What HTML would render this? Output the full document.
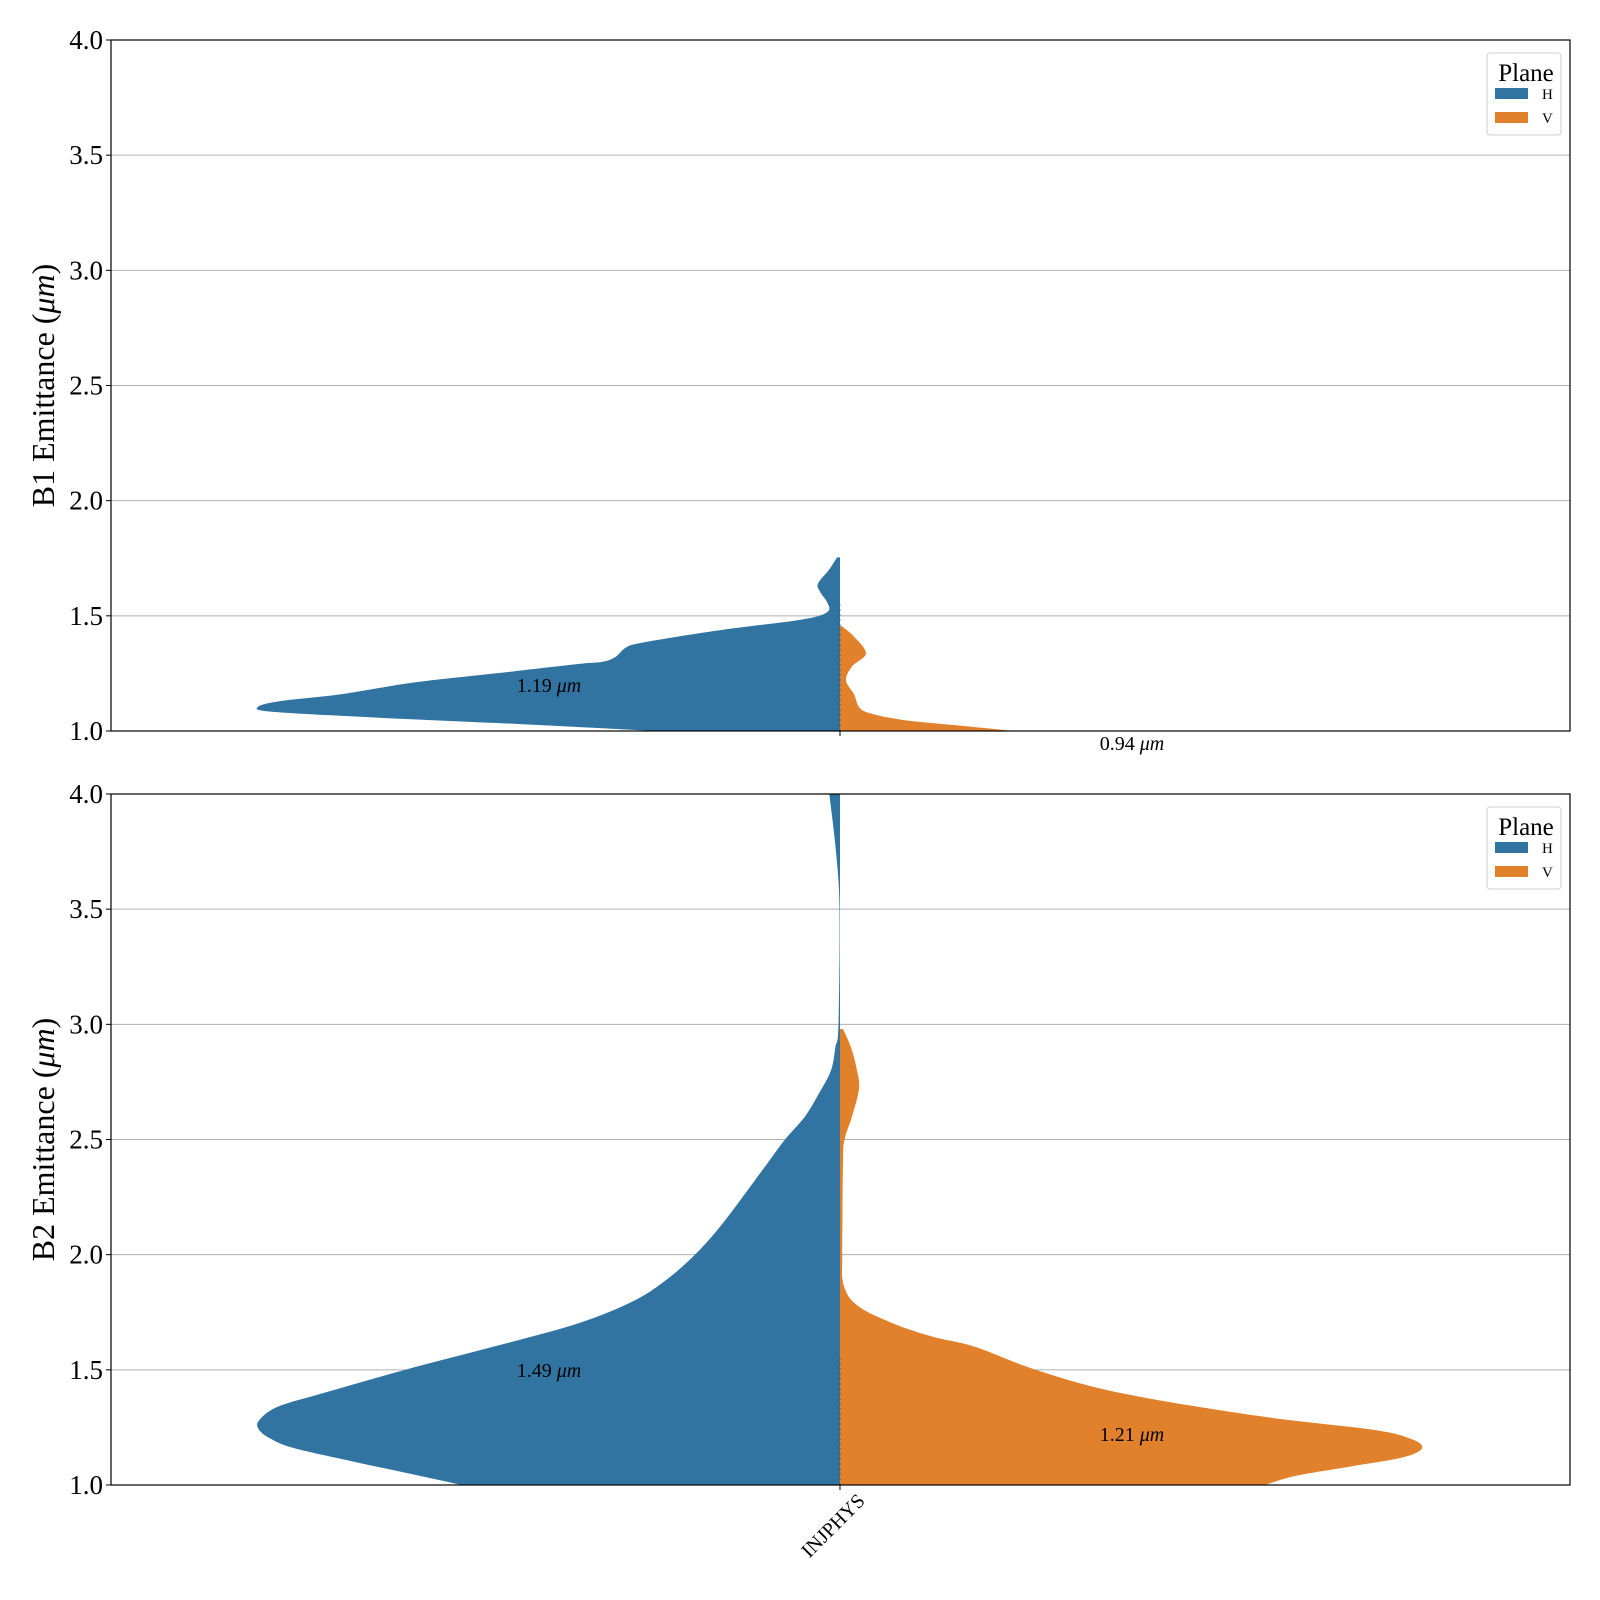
<!DOCTYPE html>
<html><head><meta charset="utf-8">
<style>
html,body{margin:0;padding:0;background:#fff;}
svg{display:block;font-family:"Liberation Serif","DejaVu Serif",serif;}
</style></head>
<body>
<svg id="chart" width="1600" height="1600" viewBox="0 0 1600 1600"></svg>
<script>
// ---- data ----
const yTicks = [1.0, 1.5, 2.0, 2.5, 3.0, 3.5, 4.0];
const yTickLabels = ["1.0", "1.5", "2.0", "2.5", "3.0", "3.5", "4.0"];
const categories = ["INJPHYS"];
const panelTitles = ["B1 Emittance (μm)", "B2 Emittance (μm)"];
const planes = ["H", "V"];
const b1H_y = [1.0, 1.004, 1.03, 1.06, 1.084, 1.105, 1.13, 1.16, 1.21, 1.25, 1.29, 1.30, 1.32, 1.36, 1.38, 1.41, 1.44, 1.46, 1.48, 1.50, 1.525, 1.56, 1.605, 1.64, 1.70, 1.754];
const b1H_d = [190, 202, 320, 472, 569, 582, 559, 498, 427, 345, 264, 238, 225, 215, 202, 162, 116, 80, 44, 21, 11, 13, 20, 22, 11, 3];
const b1V_y = [1.0, 1.004, 1.026, 1.048, 1.077, 1.105, 1.16, 1.22, 1.28, 1.337, 1.41, 1.456];
const b1V_d = [172, 165, 114, 63, 30, 19, 14, 6, 12, 26, 14, 1.5];
const b2H_y = [1.0, 1.05, 1.1, 1.16, 1.2, 1.24, 1.28, 1.34, 1.4, 1.5, 1.6, 1.7, 1.8, 1.9, 2.0, 2.1, 2.2, 2.3, 2.4, 2.5, 2.6, 2.7, 2.8, 2.9, 3.0, 3.5, 3.75, 4.0];
const b2H_d = [378, 431, 485, 546, 569, 581, 581, 562, 516, 435, 347, 263, 206, 171, 145, 124, 106, 89, 72, 55, 35, 21, 9, 4.6, 1.5, 0.5, 4, 10.7];
const b2V_y = [1.0, 1.04, 1.08, 1.12, 1.16, 1.2, 1.24, 1.3, 1.4, 1.5, 1.6, 1.64, 1.68, 1.72, 1.76, 1.8, 1.84, 1.9, 2.0, 2.4, 2.5, 2.6, 2.72, 2.8, 2.9, 2.98];
const b2V_d = [425, 456, 510, 563, 582, 571, 533, 418, 280, 196, 135, 96, 66, 43, 24, 12, 6, 2.3, 2.3, 3, 4.6, 12, 19, 17, 11, 3];
const medianLabels = [["1.19 μm", "0.94 μm"], ["1.49 μm", "1.21 μm"]];

// ---- layout ----
const NS = "http://www.w3.org/2000/svg";
const svg = document.getElementById("chart");
const X0 = 111, X1 = 1570, CX = 840;
const panels = [{top: 40, bottom: 731}, {top: 794, bottom: 1485}];
const yMin = 1.0, yMax = 4.0;
const colors = {H: "#3274a1", V: "#e1812c"};
const violins = [[[b1H_y, b1H_d], [b1V_y, b1V_d]], [[b2H_y, b2H_d], [b2V_y, b2V_d]]];
const labelPos = [[[549, 692], [1132, 750]], [[549, 1377], [1132, 1441]]];

function el(tag, attrs, parent) {
  const e = document.createElementNS(NS, tag);
  for (const k in attrs) e.setAttribute(k, attrs[k]);
  (parent || svg).appendChild(e);
  return e;
}
function smooth(pts) {
  let d = "";
  for (let i = 0; i < pts.length - 1; i++) {
    const p0 = pts[Math.max(0, i - 1)], p1 = pts[i], p2 = pts[i + 1], p3 = pts[Math.min(pts.length - 1, i + 2)];
    const c1x = p1[0] + (p2[0] - p0[0]) / 6, c1y = p1[1] + (p2[1] - p0[1]) / 6;
    const c2x = p2[0] - (p3[0] - p1[0]) / 6, c2y = p2[1] - (p3[1] - p1[1]) / 6;
    d += " C" + c1x + "," + c1y + " " + c2x + "," + c2y + " " + p2[0] + "," + p2[1];
  }
  return d;
}

panels.forEach((p, pi) => {
  const yScale = v => p.bottom - (v - yMin) / (yMax - yMin) * (p.bottom - p.top);
  const g = el("g", {});
  
  
  yTicks.forEach((t, i) => {
    const y = yScale(t);
    if (i > 0 && i < yTicks.length - 1) {
      const gl = el("line", {x1: X0, x2: X1, y1: y, y2: y, stroke: "#b0b0b0", "stroke-width": 1}, g);
      
      
    }
    el("line", {x1: X0 - 5, x2: X0, y1: y, y2: y, stroke: "#000", "stroke-width": 1}, g);
    const tl = el("text", {x: X0 - 8, y: y + 9, "text-anchor": "end", "font-size": 27}, g);
    tl.textContent = yTickLabels[i];
    
    
  });
  violins[pi].forEach((vs, si) => {
    const [ys, ds] = vs;
    const sign = si === 0 ? -1 : 1;
    const pts = ys.map((v, i) => [CX + sign * ds[i], yScale(v)]);
    let d = "M" + CX + "," + yScale(ys[0]) + " L" + pts[0][0] + "," + pts[0][1];
    d += smooth(pts);
    d += " L" + CX + "," + yScale(ys[ys.length - 1]) + " Z";
    const path = el("path", {d: d, fill: colors[planes[si]]}, g);
    
    
    const lab = el("text", {x: labelPos[pi][si][0], y: labelPos[pi][si][1], "text-anchor": "middle", "font-size": 20}, g);
    lab.innerHTML = medianLabels[pi][si].replace("μm", '<tspan font-style="italic">μm</tspan>');
    
    
  });
  el("line", {x1: CX, x2: CX, y1: yScale(1.0), y2: yScale(1.55), stroke: "#333", "stroke-width": 1, "stroke-dasharray": "2,3", opacity: 0.6}, g);
  const fr = el("rect", {x: X0, y: p.top, width: X1 - X0, height: p.bottom - p.top, fill: "none", stroke: "#000", "stroke-width": 1.2}, g);
  
  
  el("line", {x1: CX, x2: CX, y1: p.bottom, y2: p.bottom + 5, stroke: "#000", "stroke-width": 1}, g);
  const cy = (p.top + p.bottom) / 2;
  const yt = el("text", {x: 0, y: 0, transform: "translate(54," + cy + ") rotate(-90)", "text-anchor": "middle", "font-size": 32}, g);
  yt.innerHTML = panelTitles[pi].replace("(μm)", '(<tspan font-style="italic">μm</tspan>)');
  
  
  const lg = el("g", {transform: "translate(0," + (p.top - 40) + ")"}, g);
  
  
  el("rect", {x: 1487, y: 53, width: 74, height: 82, rx: 3, fill: "#fff", stroke: "#ccc", "stroke-width": 1}, lg);
  const lt = el("text", {x: 1526, y: 81, "text-anchor": "middle", "font-size": 25}, lg);
  lt.textContent = "Plane";
  
  
  planes.forEach((pl, i) => {
    const eg = el("g", {}, lg);
    
    
    el("rect", {x: 1495, y: 88 + i * 24, width: 33, height: 11, fill: colors[pl]}, eg);
    const t = el("text", {x: 1542, y: 99 + i * 24, "font-size": 15}, eg);
    t.textContent = pl;
  });
});
const xl = el("text", {x: 0, y: 0, transform: "translate(866,1502) rotate(-45)", "text-anchor": "end", "font-size": 20});
xl.textContent = categories[0];


</script>
</body></html>
